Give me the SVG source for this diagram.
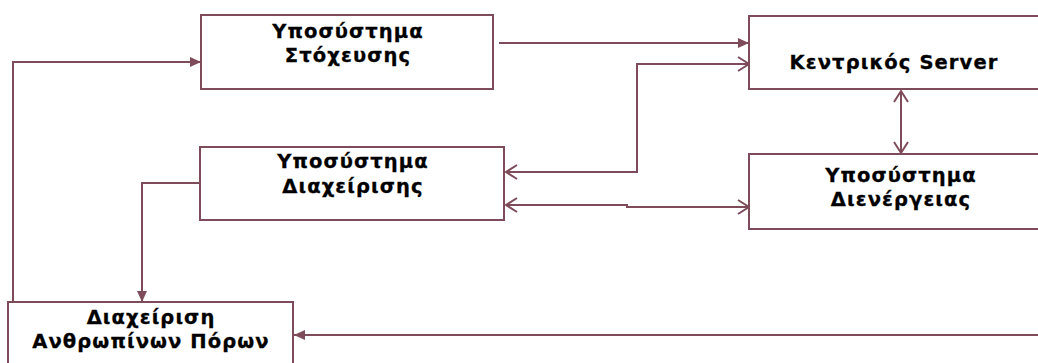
<svg xmlns="http://www.w3.org/2000/svg" width="1038" height="363" viewBox="0 0 1038 363">
<style>
.box{fill:#ffffff;stroke:#7e4b5b;stroke-width:2}
.lbl{font-family:"DejaVu Sans",Verdana,sans-serif;font-weight:bold;font-size:19.5px;fill:#000;stroke:#000;stroke-width:0.3;text-anchor:middle;letter-spacing:1.1px}
.c{fill:none;stroke:#7e4b5b;stroke-width:2}
.f{marker-end:url(#fill)}
.o{marker-end:url(#open)}
.os{marker-start:url(#openS)}
</style>
<defs>
<marker id="fill" markerWidth="12" markerHeight="10" refX="11" refY="5" orient="auto" markerUnits="userSpaceOnUse">
<path d="M0,0 L11,5 L0,10 z" fill="#7e4b5b"/>
</marker>
<marker id="open" markerWidth="14" markerHeight="16" refX="12" refY="8" orient="auto" markerUnits="userSpaceOnUse">
<path d="M1,1 L12,8 L1,15" fill="none" stroke="#7e4b5b" stroke-width="2"/>
</marker>
<marker id="openS" markerWidth="14" markerHeight="16" refX="2" refY="8" orient="auto" markerUnits="userSpaceOnUse">
<path d="M13,1 L2,8 L13,15" fill="none" stroke="#7e4b5b" stroke-width="2"/>
</marker>
</defs>
<rect width="1038" height="363" fill="#ffffff"/>
<g id="connectors">
<path class="c f" d="M13,302 V62 H201"/>
<path class="c f" d="M499,43 H749"/>
<path class="c o os" d="M506,172 H637 V64 H749"/>
<path class="c o os" d="M901,91 V153"/>
<path class="c o os" d="M506,205 H627 V207 H749"/>
<path class="c f" d="M200,183 H142 V302"/>
<path class="c f" d="M1040,335 H294"/>
</g>
<g id="n1">
<rect class="box" x="201" y="15" width="292" height="74"/>
<text class="lbl" x="348" y="38">Υποσύστημα</text>
<text class="lbl" x="348" y="62">Στόχευσης</text>
</g>
<g id="n2">
<rect class="box" x="749" y="16" width="300" height="73"/>
<text class="lbl" x="894" y="69">Κεντρικός Server</text>
</g>
<g id="n3">
<rect class="box" x="200" y="147" width="304" height="73"/>
<text class="lbl" x="353" y="168">Υποσύστημα</text>
<text class="lbl" x="353" y="193">Διαχείρισης</text>
</g>
<g id="n4">
<rect class="box" x="749" y="154" width="300" height="75"/>
<text class="lbl" x="901" y="182">Υποσύστημα</text>
<text class="lbl" x="901" y="206">Διενέργειας</text>
</g>
<g id="n5">
<rect class="box" x="8" y="302" width="285" height="70"/>
<text class="lbl" x="151" y="324">Διαχείριση</text>
<text class="lbl" x="151" y="348">Ανθρωπίνων Πόρων</text>
</g>
</svg>
